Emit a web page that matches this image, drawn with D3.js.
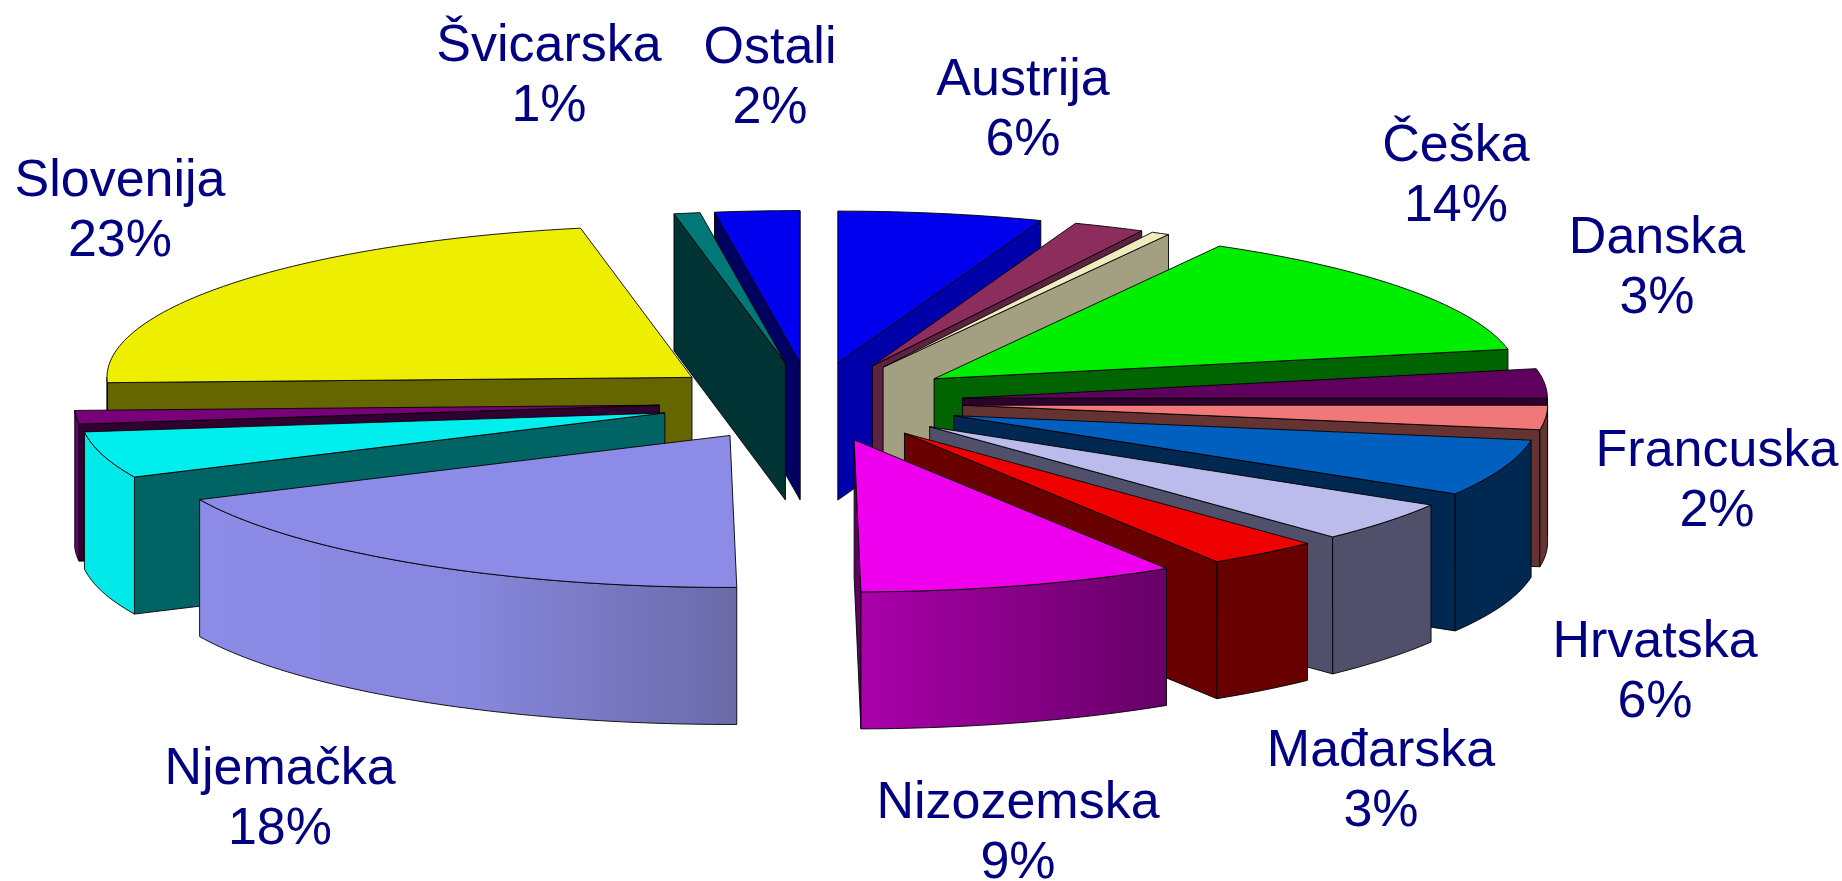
<!DOCTYPE html>
<html>
<head>
<meta charset="utf-8">
<script src="https://cdn.jsdelivr.net/npm/d3@7"></script>
<style>
  html, body { margin: 0; padding: 0; background: #fff; overflow: hidden; }
  text { font-family: "Liberation Sans", Arial, sans-serif; font-size: 52px; fill: #000080; text-anchor: middle; }
  path { stroke: #000; stroke-width: 0.9; stroke-linejoin: round; }
</style>
</head>
<body>
<svg width="1842" height="881"></svg>
<script>
// slices clockwise from 12 o'clock, some have no label in the picture
const names   = ["Austrija", null, null, "Češka", "Danska", "Francuska", "Hrvatska", "Mađarska", null, "Nizozemska", "Njemačka", null, null, "Slovenija", "Švicarska", "Ostali"];
const values  = [5.64, 1.97, 0.5, 13.78, 3.11, 2.58, 6.03, 4.29, 3.13, 8.78, 18.25, 4.94, 1.44, 22.5, 0.72, 2.33];
const percent = ["6%", null, null, "14%", "3%", "2%", "6%", "3%", null, "9%", "18%", null, null, "23%", "1%", "2%"];

const topColor  = ["#0000ee", "#8c2d5e", "#f0ecc0", "#00ee00", "#5f005f", "#f07878", "#005fbf", "#bbbbec", "#ee0000", "#ee00ee", "#8c8ce8", "#00eeee", "#780078", "#eeee00", "#007878", "#0000ee"];
const faceColor = ["#0000aa", "#5f2142", "#a3a082", "#006400", "#2d002d", "#663333", "#002850", "#50506a", "#690000", "#600060", "#5e5e9c", "#006464", "#300030", "#666600", "#003333", "#000060"];
const wallStops = [
  null, null, null, null, null,
  ["#663333", "#663333"], ["#002850", "#002850"], ["#50506a", "#50506a"], ["#690000", "#690000"],
  ["#aa00aa", "#660066"], ["#8c8ce8", "#8787de", "#6a6aa8"], ["#00e8e8", "#00e8e8"], ["#6a006a", "#6a006a"], ["#666600", "#666600"],
  null, null
];

// label anchors, only for slices that have a name
const labelX = {Austrija: 1023, "Češka": 1456, Danska: 1657, Francuska: 1717, Hrvatska: 1655, "Mađarska": 1381, Nizozemska: 1018, "Njemačka": 280, Slovenija: 120, "Švicarska": 549, Ostali: 770};
const labelY = {Austrija: 95, "Češka": 161, Danska: 253, Francuska: 466, Hrvatska: 657, "Mađarska": 766, Nizozemska: 818, "Njemačka": 784, Slovenija: 196, "Švicarska": 61, Ostali: 63};

const cx = 811, cy = 402, rx = 585, ry = 152, depth = 137, explode = 0.26, lineGap = 60;

// ground plane of the pie, unit circle to squashed ellipse
const scaleX = d3.scaleLinear().domain([-1, 1]).range([cx - rx, cx + rx]);
const scaleY = d3.scaleLinear().domain([-1, 1]).range([cy + ry, cy - ry]);

const svg = d3.select("svg");
const defs = svg.append("defs");
const line = d3.line();

const arcs = d3.pie().sort(null).value(d => d).startAngle(0).endAngle(2 * Math.PI)(values)
    .map((a, i) => ({...a, i, mid: (a.startAngle + a.endAngle) / 2}));

function project(a, r, mid, drop) {
    return [scaleX(r * Math.sin(a) + explode * Math.sin(mid)),
            scaleY(r * Math.cos(a) + explode * Math.cos(mid)) + drop];
}

function arcPoints(a0, a1, mid, drop) {
    const n = Math.max(2, Math.ceil((a1 - a0) / 0.02));
    return d3.range(n + 1).map(k => project(a0 + (a1 - a0) * k / n, 1, mid, drop));
}

function radialFace(a, mid) {
    return line([project(0, 0, mid, 0), project(a, 1, mid, 0), project(a, 1, mid, depth), project(0, 0, mid, depth)]) + "Z";
}

function drawSlice(d) {
    const g = svg.append("g").attr("class", "slice");
    const a0 = d.startAngle, a1 = d.endAngle;

    // only the radial side that turns to the viewer
    if (Math.sin(a1) > 0) g.append("path").attr("d", radialFace(a1, d.mid)).attr("fill", faceColor[d.i]);
    if (Math.sin(a0) < 0) g.append("path").attr("d", radialFace(a0, d.mid)).attr("fill", faceColor[d.i]);

    // outer wall, front half of the ellipse only
    const w0 = Math.max(a0, Math.PI / 2), w1 = Math.min(a1, 3 * Math.PI / 2);
    if (w1 > w0) {
        const upper = arcPoints(w0, w1, d.mid, 0);
        const lower = arcPoints(w0, w1, d.mid, depth).reverse();
        const stops = wallStops[d.i] || [faceColor[d.i], faceColor[d.i]];
        const xs = d3.extent(upper, p => p[0]);
        const grad = defs.append("linearGradient").attr("id", "wall" + d.i)
            .attr("gradientUnits", "userSpaceOnUse")
            .attr("x1", xs[0]).attr("x2", xs[1]).attr("y1", 0).attr("y2", 0);
        stops.forEach((c, k) => grad.append("stop").attr("offset", k / (stops.length - 1)).attr("stop-color", c));
        g.append("path").attr("d", line(upper.concat(lower)) + "Z").attr("fill", `url(#wall${d.i})`);
    }

    // top face
    g.append("path")
        .attr("d", line([project(0, 0, d.mid, 0)].concat(arcPoints(a0, a1, d.mid, 0))) + "Z")
        .attr("fill", topColor[d.i]);
}

// back to front
arcs.slice().sort((a, b) => d3.descending(Math.cos(a.mid), Math.cos(b.mid))).forEach(drawSlice);

names.forEach((name, i) => {
    if (!name) return;
    svg.append("text").attr("x", labelX[name]).attr("y", labelY[name]).text(name);
    svg.append("text").attr("x", labelX[name]).attr("y", labelY[name] + lineGap).text(percent[i]);
});
</script>
</body>
</html>
